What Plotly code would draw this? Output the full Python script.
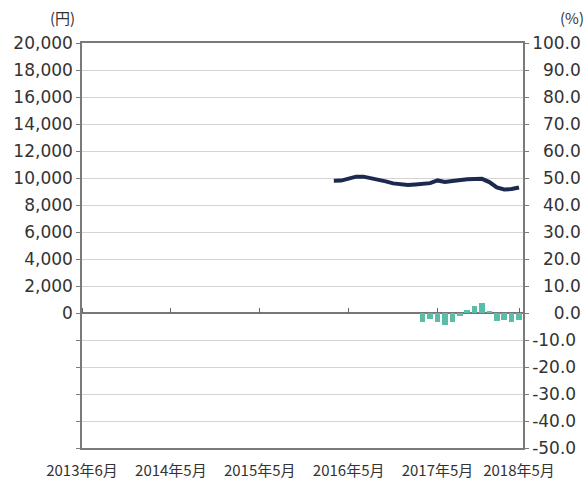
import plotly.graph_objects as go
import numpy as np

# ---- data ----
n_months = 60                      # 2013-06 .. 2018-05, monthly
x_tick_index = [0, 12, 24, 36, 48, 59]
x_tick_labels = ["2013年6月", "2014年5月", "2015年5月", "2016年5月", "2017年5月", "2018年5月"]

price_start = 34                   # first month with a price
price = [9800, 9810, 9950, 10100, 10100, 10000, 9900, 9750, 9600, 9550,
         9480, 9520, 9560, 9620, 9820, 9700, 9780, 9870, 9900, 9920,
         9940, 9700, 9300, 9150, 9180, 9300]

yoy_start = 46                     # first month with a YoY change
yoy = [-3.3, -2.3, -3.5, -4.5, -3.2, -1.0, 1.0, 2.5, 3.8, 0.8,
       -2.8, -2.5, -3.2, -2.6]

left_ticks = list(range(-10000, 20001, 2000))
left_text = ["" if v < 0 else f"{v:,}" for v in left_ticks]
right_ticks = list(range(-50, 101, 10))
right_raw = [f"{v:.1f}" for v in right_ticks]

# ---- build ----
fs = "\u2007"
maxw = max(len(t) for t in right_raw)
right_text = [(fs * (maxw - len(t)) + t) if not t.startswith("-") else t for t in right_raw]

x_price = np.arange(price_start, price_start + len(price))
x_yoy = np.arange(yoy_start, yoy_start + len(yoy))

num_font = dict(family="DejaVu Sans", size=17, color="#333333")
grid_c = "#d4d4d4"
line_c = "#7a7a7a"

fig = go.Figure()
fig.add_trace(go.Bar(x=x_yoy, y=yoy, yaxis="y2", width=0.75,
                     marker=dict(color="#5bbda8", line=dict(width=0)),
                     showlegend=False))
fig.add_trace(go.Scatter(x=x_price, y=price, mode="lines",
                         line=dict(color="#1b2a4e", width=4),
                         showlegend=False))
# empty trace to carry the zero-line tick axis
fig.add_trace(go.Scatter(x=[], y=[], xaxis="x2", showlegend=False, hoverinfo="skip"))

xr = [0, n_months - 0.46]
fig.update_layout(
    width=587, height=482,
    margin=dict(l=82, r=64, t=43, b=34, autoexpand=False),
    paper_bgcolor="white", plot_bgcolor="white",
    bargap=0,
    xaxis=dict(range=xr, tickvals=x_tick_index, ticktext=x_tick_labels,
               tickfont=dict(family="Noto Sans CJK JP", size=15, color="#333333"),
               showgrid=False, zeroline=False, ticks="", automargin=False,
               showline=True, linecolor=line_c, linewidth=1.5, mirror=True,
               ticklabelstandoff=8),
    xaxis2=dict(range=xr, overlaying="x", anchor="free", position=1/3, side="top",
                tickvals=x_tick_index, ticks="outside", ticklen=5, tickcolor="#666666",
                showticklabels=False, showgrid=False, zeroline=False, showline=False,
                automargin=False),
    yaxis=dict(range=[-10000, 20000], tickvals=left_ticks, ticktext=left_text,
               tickfont=num_font, showgrid=True, gridcolor=grid_c, gridwidth=1,
               zeroline=True, zerolinecolor="#777777", zerolinewidth=1.5,
               ticks="outside", ticklen=4, tickcolor=line_c, automargin=False,
               showline=True, linecolor=line_c, linewidth=1.5),
    yaxis2=dict(range=[-50, 100], tickvals=right_ticks, ticktext=right_text,
                overlaying="y", side="right", tickfont=num_font,
                showgrid=False, zeroline=False, automargin=False,
                ticks="outside", ticklen=4, tickcolor=line_c,
                showline=True, linecolor=line_c, linewidth=1.5),
    annotations=[
        dict(text="(円)", xref="paper", yref="paper", x=0, y=1, xanchor="right",
             yanchor="bottom", xshift=-5, yshift=13, showarrow=False,
             font=dict(family="Noto Sans CJK JP", size=15, color="#333333")),
        dict(text="(%)", xref="paper", yref="paper", x=1, y=1, xanchor="right",
             yanchor="bottom", xshift=63, yshift=13, showarrow=False,
             font=dict(family="Noto Sans CJK JP", size=15, color="#333333")),
    ],
)

fig.write_html("out.html", config={"displayModeBar": False},
               post_script="document.body.style.margin='0';document.body.style.overflow='hidden';")
